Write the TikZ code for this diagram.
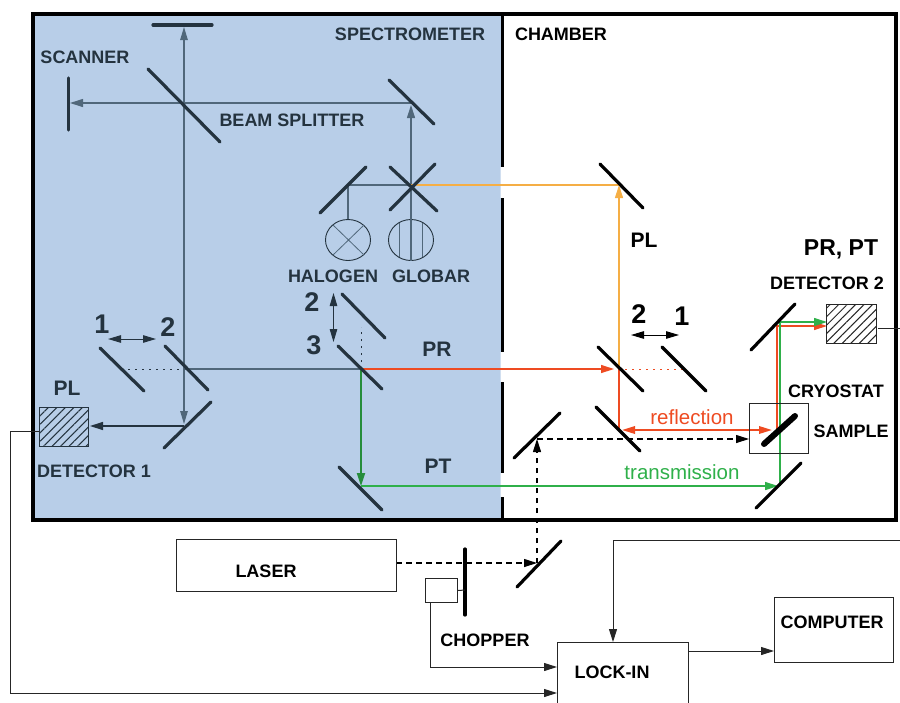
\documentclass[tikz,border=0pt]{standalone}
\usepackage{fontspec}
\setmainfont{Liberation Sans}
\usepackage{xcolor}
\usepackage{tikz}
\usetikzlibrary{arrows.meta, patterns.meta, shapes.geometric}
\definecolor{specblue}{HTML}{B8CEE8}
\definecolor{inkdark}{HTML}{24333F}
\definecolor{beamgrey}{HTML}{50677A}
\definecolor{beamorange}{HTML}{F5AE45}
\definecolor{beamred}{HTML}{EE4B22}
\definecolor{beamgreen}{HTML}{2FB04A}

\begin{document}
\begin{tikzpicture}[x=1pt, y=-1pt,
    mirror/.style={line width=3.2pt, line cap=round, draw=#1},
    mirror/.default=inkdark,
    beam/.style={line width=1.1pt, draw=#1},
    onetip/.style={-{Stealth[length=13pt, width=8pt, inset=0pt]}},
    twotips/.style={{Stealth[length=13pt, width=7.5pt, inset=0pt]}-{Stealth[length=13pt, width=7.5pt, inset=0pt]}},
    pump/.style={black, line width=1.1pt, dash pattern=on 5.5pt off 4.5pt, onetip},
    spots/.style={line width=1pt, dash pattern=on 2pt off 5pt},
    wire/.style={black!85, line width=1pt},
    lbl/.style={font=\fontsize{18}{18}\selectfont\bfseries, text=#1, inner sep=0pt},
    lbl/.default=inkdark,
    biglbl/.style={font=\fontsize{21}{21}\selectfont\bfseries, text=#1, inner sep=0pt},
    biglbl/.default=inkdark,
    num/.style={font=\fontsize{27}{27}\selectfont\bfseries, text=#1, inner sep=0pt},
    num/.default=inkdark,
    box/.style={draw=black!85, line width=1pt, fill=white, inner sep=0pt},
    lamp/.style={draw=inkdark, line width=0.9pt, ellipse, minimum width=45pt, minimum height=41pt, inner sep=0pt},
    detector/.style={draw=#1, line width=1pt, pattern={Lines[angle=45, distance=6pt, line width=1pt]}, pattern color=#1, inner sep=0pt, minimum width=49pt, minimum height=39pt},
]
    \useasboundingbox (0,0) rectangle (900,702);

    % panels
    \fill[specblue] (33,14) rectangle (502,520);
    \draw[line width=4pt, black] (33,14) rectangle (896,520);
    \fill[white] (500.5,167) rectangle (503.5,198) (500.5,352) rectangle (503.5,382) (500.5,473) rectangle (503.5,497);
    \foreach \ya/\yb in {14/167, 198/352, 382/473, 497/520}
        \draw[line width=3pt, black] (502,\ya) -- (502,\yb);
    \node[lbl] (spectrometer) at (410,34) {SPECTROMETER};
    \node[lbl=black] (chamber) at (561,34) {CHAMBER};

    % mirror positions on the beams
    \coordinate (scantop) at (184,27);
    \coordinate (scanleft) at (70,103);
    \coordinate (split) at (184,103);
    \coordinate (topright) at (411,103);
    \coordinate (halmirror) at (348,185);
    \coordinate (globcross) at (411,185);
    \coordinate (plbottom) at (184,426);
    \coordinate (leftpos2) at (184,369);
    \coordinate (leftpos1) at (128,369);
    \coordinate (midpos3) at (361,369);
    \coordinate (midpos2) at (361,327);
    \coordinate (ptfold) at (361,486);
    \coordinate (chamtop) at (619,185);
    \coordinate (champos2) at (619,369);
    \coordinate (redspot) at (625,369);
    \coordinate (champos1) at (683,369);
    \coordinate (chamlow) at (619,430);
    \coordinate (pumpfold) at (537,439);
    \coordinate (lasermirror) at (537,563);
    \coordinate (redfold) at (777,326);
    \coordinate (greenfold) at (780,322);
    \coordinate (samplespot) at (777,430);
    \coordinate (greenlow) at (780,486);
    \coordinate (samplein) at (749,439);

    % sources
    \node[lamp] (halogen) at (348,240) {};
    \node[lamp] (globar) at (411,240) {};
    \draw[beamgrey, line width=0.8pt] (333,225) -- (364,255) (364,225) -- (333,255);
    \draw[beamgrey, line width=0.8pt] (399,223) -- (399,257) (422,223) -- (422,257);

    % grey beams
    \draw[beam=beamgrey, twotips] (scantop) -- (184,424);
    \draw[beam=beamgrey, onetip] (topright) -- (scanleft);
    \draw[beam=beamgrey, onetip] (globar.south) -- (411,105);
    \draw[beam=beamgrey] (halmirror) -- (globcross);
    \draw[beam=beamgrey] (halmirror) -- (halogen.north);
    \draw[beam=beamgrey, line width=1.3pt] (leftpos2) -- (midpos3);
    \draw[beam=inkdark, onetip, line width=1.3pt] (plbottom) -- (90,426);
    \draw[spots, inkdark] (leftpos1) -- (leftpos2);
    \draw[spots, inkdark] (midpos3) -- (midpos2);

    % coloured beams
    \draw[beam=beamorange] (globcross) -- (chamtop);
    \draw[beam=beamorange, onetip] (champos2) -- (chamtop);
    \draw[beam=beamred, line width=1.4pt, onetip] (midpos3) -- (614,369);
    \draw[spots, beamred] (redspot) -- (champos1);
    \draw[beam=beamred] (champos2) -- (chamlow);
    \draw[beam=beamred, line width=1.8pt, twotips] (622,430) -- (772,430);
    \draw[beam=beamred, onetip] (samplespot) -- (redfold) -- (827,326);
    \draw[beam=beamgreen, onetip] (greenlow) -- (greenfold) -- (827,322);
    \draw[beam=beamgreen!80!black, line width=1.8pt, onetip] (midpos3) -- (ptfold);
    \draw[beam=beamgreen, line width=1.6pt, onetip] (ptfold) -- (778,486);

    % mirrors
    \draw[mirror] (153,25) -- (212,25);
    \draw[mirror] (68.5,78) -- (68.5,130);
    \draw[mirror] (148,69) -- (220,142);
    \draw[mirror] (389,80) -- (434,124);
    \draw[mirror] (320,213) -- (366,167);
    \draw[mirror] (390,167) -- (437,211);
    \draw[mirror] (390,210) -- (435,164);
    \draw[mirror] (100,348) -- (144,391);
    \draw[mirror] (165,346) -- (208,390);
    \draw[mirror] (211,402) -- (164,448);
    \draw[mirror] (342,294) -- (385,338);
    \draw[mirror] (338,346) -- (382,389);
    \draw[mirror] (339,467) -- (382,510);
    \draw[mirror=black] (600,164) -- (643,208);
    \draw[mirror=black] (598,347) -- (643,391);
    \draw[mirror=black] (662,347) -- (706,391);
    \draw[mirror=black] (596,407) -- (640,451);
    \draw[mirror=black] (560,413) -- (514,458);
    \draw[mirror=black] (795,304) -- (751,350);
    \draw[mirror=black] (801,463) -- (756,508);
    \draw[mirror=black, line width=6pt] (795,416) -- (764,444);
    \draw[mirror=black] (561,541) -- (517,587);

    % detectors
    \node[detector=inkdark, anchor=north west] (det1) at (39,407) {};
    \node[detector=black!85, anchor=north west, minimum width=50pt] (det2) at (826,304) {};
    \node[draw=black!85, line width=1pt, minimum width=59pt, minimum height=50pt, inner sep=0pt, anchor=north west] (cryostat) at (749,403) {};

    % travel arrows
    \draw[inkdark, line width=1pt, twotips] (108,339) -- (156,339);
    \draw[inkdark, line width=1pt, twotips] (333.5,293) -- (333.5,342);
    \draw[black, line width=1pt, twotips] (631,335) -- (679,335);

    % pump path
    \draw[pump] (396,563) -- (lasermirror);
    \draw[pump] (lasermirror) -- (pumpfold);
    \draw[pump] (pumpfold) -- (samplein);

    % electronics
    \node[box, anchor=north west, minimum width=220pt, minimum height=52pt] (laser) at (176,539) {};
    \node[lbl=black] (lasertext) at (266,571) {LASER};
    \node[box, anchor=north west, minimum width=32pt, minimum height=24pt] (chopbox) at (425,578) {};
    \draw[mirror=black] (465,549) -- (465,615);
    \draw[wire] (chopbox.east) -- (465,590);
    \node[box, anchor=north west, minimum width=131pt, minimum height=80pt] (lockin) at (557,642) {};
    \node[lbl=black] (lockintext) at (612,672) {LOCK-IN};
    \node[box, anchor=north west, minimum width=119pt, minimum height=65pt] (computer) at (774,597) {};
    \node[lbl=black] (computertext) at (832,622) {COMPUTER};
    \draw[wire, onetip] (430,602) -- (430,667) -- (557,667);
    \draw[wire, onetip] (39,431) -- (10,431) -- (10,693) -- (557,693);
    \draw[wire, onetip] (900,540) -- (613,540) -- (613,642);
    \draw[wire, onetip] (688,651) -- (774,651);
    \draw[wire] (878,328) -- (900,328);

    % labels
    \node[lbl] (scanner) at (85,57) {SCANNER};
    \node[lbl] (splitter) at (292,120) {BEAM SPLITTER};
    \node[lbl] (halogentext) at (333,276) {HALOGEN};
    \node[lbl] (globartext) at (431,276) {GLOBAR};
    \node[biglbl] (pltext) at (67,388) {PL};
    \node[lbl] (det1text) at (94,471) {DETECTOR 1};
    \node[biglbl] (prtext) at (437,349) {PR};
    \node[biglbl] (pttext) at (438,466) {PT};
    \node[lbl=black] (chopper) at (485,640) {CHOPPER};
    \node[biglbl=black] (pl2text) at (644,240) {PL};
    \node[biglbl=black, font=\fontsize{23}{23}\selectfont\bfseries] (prpt) at (841,249) {PR, PT};
    \node[lbl=black] (det2text) at (827,283) {DETECTOR 2};
    \node[lbl=black] (cryotext) at (836,391) {CRYOSTAT};
    \node[lbl=black] (sampletext) at (851,431) {SAMPLE};
    \node[lbl=beamred, font=\fontsize{20.5}{20.5}\selectfont] (reflect) at (692,417) {reflection};
    \node[lbl=beamgreen, font=\fontsize{20.5}{20.5}\selectfont] (transmit) at (682,472) {transmission};

    % position numbers
    \node[num] (n1a) at (102,324) {1};
    \node[num] (n2a) at (168,327) {2};
    \node[num] (n2b) at (312,302) {2};
    \node[num] (n3b) at (314,345) {3};
    \node[num=black] (n2c) at (639,314) {2};
    \node[num=black] (n1c) at (682,316) {1};
\end{tikzpicture}
\end{document}
